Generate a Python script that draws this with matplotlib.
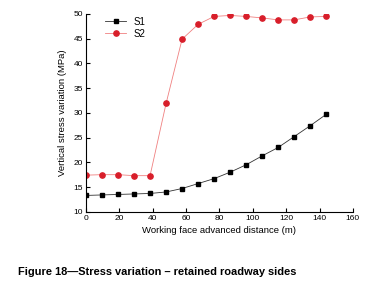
import matplotlib
matplotlib.use("Agg")
import matplotlib.pyplot as plt

plt.rcParams["font.family"] = ["Liberation Sans", "DejaVu Sans"]

distance = [0, 9.6, 19.2, 28.8, 38.4, 48, 57.6, 67.2, 76.8, 86.4, 96, 105.6, 115.2, 124.8, 134.4, 144]
s1 = [13.3, 13.4, 13.5, 13.6, 13.7, 14.0, 14.7, 15.7, 16.7, 18.0, 19.5, 21.3, 23.0, 25.2, 27.4, 29.7]
s2 = [17.4, 17.5, 17.5, 17.3, 17.3, 31.9, 44.9, 47.9, 49.5, 49.7, 49.5, 49.2, 48.8, 48.8, 49.4, 49.5]

fig = plt.figure(figsize=(3.73, 2.85), dpi=100)
ax = fig.add_axes([0.2306, 0.257, 0.7155, 0.694])

ax.plot(distance, s1, color="#333333", linewidth=0.6, marker="s", markersize=3.2,
        markerfacecolor="black", markeredgecolor="black", label="S1")
ax.plot(distance, s2, color="#f08080", linewidth=0.6, marker="o", markersize=3.8,
        markerfacecolor="#d81e2a", markeredgecolor="#d81e2a", label="S2")

ax.set_xlim(0, 160)
ax.set_ylim(10, 50)
ax.set_xticks(range(0, 161, 20))
ax.set_yticks(range(10, 51, 5))
for side in ("top", "right"):
    ax.spines[side].set_visible(False)
for side in ("left", "bottom"):
    ax.spines[side].set_linewidth(0.8)
ax.tick_params(direction="in", length=3, width=0.8, labelsize=6, pad=2, colors="black")

ax.set_xlabel("Working face advanced distance (m)", fontsize=6.8, labelpad=3)
ax.set_ylabel("Vertical stress variation (MPa)", fontsize=6.8, labelpad=5)

ax.legend(loc="upper left", bbox_to_anchor=(0.045, 1.02), frameon=False, fontsize=7,
          handlelength=2.2, labelspacing=0.2, borderpad=0.2)

fig.text(0.048, 0.035, "Figure 18\u2014Stress variation \u2013 retained roadway sides",
         fontsize=7.9, fontweight="bold", ha="left", va="baseline")

fig.savefig("out.png", dpi=100, facecolor="white")
